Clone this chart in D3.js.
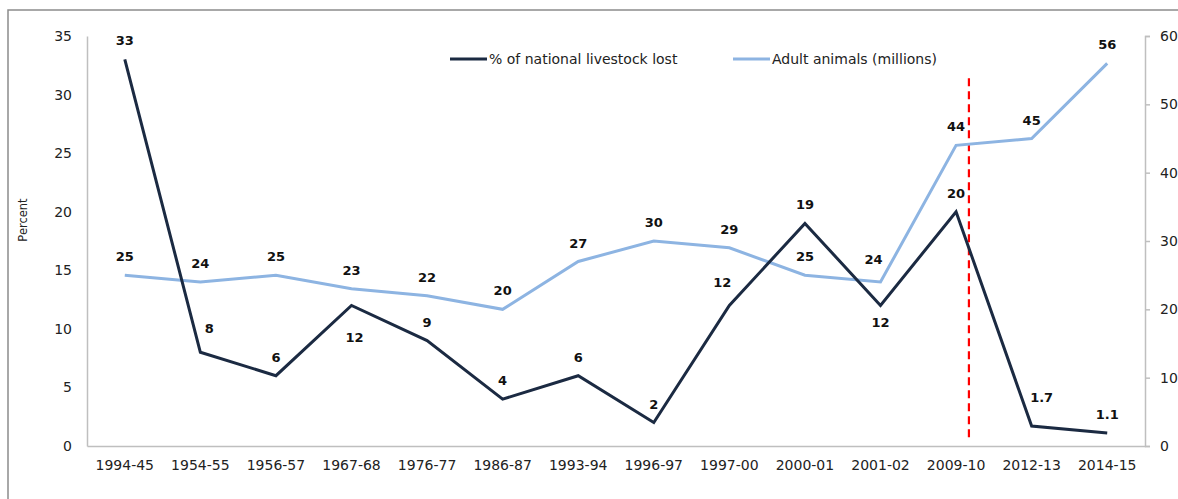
<!DOCTYPE html>
<html><head><meta charset="utf-8">
<script src="https://cdn.jsdelivr.net/npm/d3@7"></script>
<style>body{margin:0;background:#fff}svg{display:block;font-family:"DejaVu Sans",Verdana,sans-serif}</style>
</head><body><svg id="c" width="1178" height="499"></svg>
<script>
const categories = ["1994-45","1954-55","1956-57","1967-68","1976-77","1986-87","1993-94","1996-97","1997-00","2000-01","2001-02","2009-10","2012-13","2014-15"];
const pctLost = [33,8,6,12,9,4,6,2,12,19,12,20,1.7,1.1];
const adultAnimals = [25,24,25,23,22,20,27,30,29,25,24,44,45,56];
const pctLabelPos = ["above","aboveRight","above","belowFar","above","above","above","above","aboveLeft","above","below","above","aboveRightFar","above"];
const animalLabelPos = ["above","above","above","above","above","above","above","above","above","above","aboveLeft","above","above","above"];
const leftTicks = [0,5,10,15,20,25,30,35];
const rightTicks = [0,10,20,30,40,50,60];
const seriesNames = ["% of national livestock lost","Adult animals (millions)"];

const svg = d3.select("#c");
const m={left:87,right:1145,top:36,bottom:446};
const darkC="#1b2a42", lightC="#8db4e2", axisC="#bfbfbf";

svg.append("rect").attr("x",8).attr("y",10).attr("width",1200).attr("height",520).attr("fill","none").attr("stroke","#8c8c8c").attr("stroke-width",1.5);

const x=d3.scaleBand().domain(categories).range([m.left,m.right]);
const yL=d3.scaleLinear().domain([0,35]).range([m.bottom,m.top]);
const yR=d3.scaleLinear().domain([0,60]).range([m.bottom,m.top]);
const cx=c=>x(c)+x.bandwidth()/2;

const gL=svg.append("g").attr("transform",`translate(${m.left},0)`).call(d3.axisLeft(yL).tickValues(leftTicks).tickSize(0).tickPadding(15));
gL.select(".domain").attr("stroke",axisC).attr("stroke-width",1.5);
gL.selectAll("text").attr("font-size",14).attr("fill","#222").attr("font-family","DejaVu Sans");
const gR=svg.append("g").attr("transform",`translate(${m.right},0)`).call(d3.axisRight(yR).tickValues(rightTicks).tickSize(5).tickPadding(10).tickSizeOuter(5));
gR.select(".domain").attr("stroke",axisC).attr("stroke-width",1.5);
gR.selectAll("line").attr("stroke",axisC).attr("stroke-width",1.5);
gR.selectAll("text").attr("font-size",14).attr("fill","#222").attr("font-family","DejaVu Sans");
const gB=svg.append("g").attr("transform",`translate(0,${m.bottom})`).call(d3.axisBottom(x).tickSize(0).tickPadding(14));
gB.select(".domain").attr("stroke",axisC).attr("stroke-width",1.5);
gB.selectAll("text").attr("font-size",14).attr("fill","#222").attr("font-family","DejaVu Sans");

svg.append("text").attr("transform",`translate(27,${(m.top+m.bottom)/2 - 21}) rotate(-90)`).attr("text-anchor","middle").attr("font-size",11.5).attr("fill","#222").text("Percent");

const dx = cx("2009-10") + (cx("2012-13")-cx("2009-10"))*0.17;
svg.append("line").attr("x1",dx).attr("x2",dx).attr("y1",yL(31.4)).attr("y2",yL(0.7)).attr("stroke","#ff0000").attr("stroke-width",2.2).attr("stroke-dasharray","8,5");

const lineL=d3.line().x((d,i)=>cx(categories[i])).y(d=>yL(d));
const lineR=d3.line().x((d,i)=>cx(categories[i])).y(d=>yR(d));
svg.append("path").datum(adultAnimals).attr("d",lineR).attr("fill","none").attr("stroke",lightC).attr("stroke-width",3);
svg.append("path").datum(pctLost).attr("d",lineL).attr("fill","none").attr("stroke",darkC).attr("stroke-width",3);

function off(p){
  switch(p){
    case "above": return [0,-14];
    case "below": return [0,22];
    case "belowFar": return [3,37];
    case "aboveRight": return [9,-19];
    case "aboveRightFar": return [10,-24];
    case "aboveLeft": return [-7,-18];
  }
}
function labels(vals,pos,ys){
  svg.append("g").selectAll("text").data(vals).join("text")
    .attr("x",(d,i)=>cx(categories[i])+off(pos[i])[0])
    .attr("y",(d,i)=>ys(d)+off(pos[i])[1])
    .attr("text-anchor","middle").attr("font-size",13).attr("font-weight","bold").attr("fill","#111")
    .text(d=>d);
}
labels(pctLost,pctLabelPos,yL);
labels(adultAnimals,animalLabelPos,yR);

const leg=[{name:seriesNames[0],c:darkC,x:450},{name:seriesNames[1],c:lightC,x:733}];
const lg=svg.append("g");
leg.forEach(l=>{
  lg.append("line").attr("x1",l.x).attr("x2",l.x+37).attr("y1",59).attr("y2",59).attr("stroke",l.c).attr("stroke-width",3);
  lg.append("text").attr("x",l.x+39).attr("y",64).attr("font-size",14).attr("fill","#222").text(l.name);
});
</script></body></html>
